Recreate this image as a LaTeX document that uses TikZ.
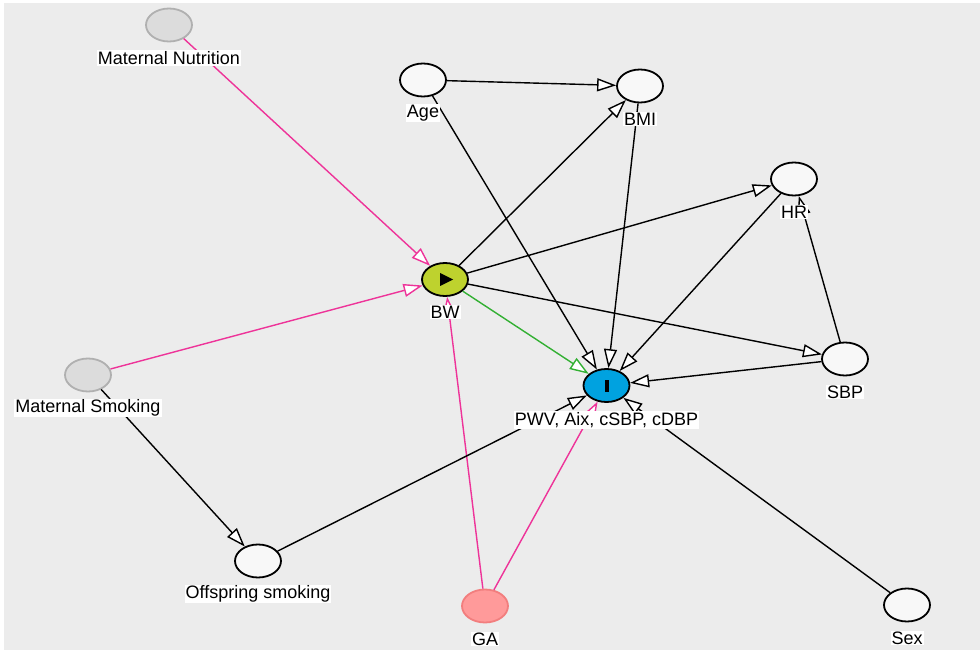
\documentclass[tikz,border=0pt]{standalone}
\usepackage{fontspec}
\setmainfont{Liberation Sans}
\usetikzlibrary{arrows.meta,shapes.geometric}
\definecolor{bg}{HTML}{ECECEC}
\definecolor{nodefill}{HTML}{F8F8F8}
\definecolor{latfill}{HTML}{DCDCDC}
\definecolor{latdraw}{HTML}{B0B0B0}
\definecolor{expfill}{HTML}{BED22E}
\definecolor{outfill}{HTML}{00A2E0}
\definecolor{gafill}{HTML}{FF9A9A}
\definecolor{gadraw}{HTML}{F27E7E}
\definecolor{pinkedge}{HTML}{EE3399}
\definecolor{greenedge}{HTML}{33B033}
\tikzset{
  var/.style={ellipse, draw=black, line width=1.8pt, fill=nodefill,
    minimum width=46pt, minimum height=33pt, inner sep=0pt},
  latent/.style={var, draw=latdraw, fill=latfill},
  lbl/.style={fill=white, inner sep=1pt, text=black,
    font=\fontsize{18}{20}\selectfont},
  edge/.style={line width=1.4pt, draw=black,
    -{Triangle[length=19pt,width=13pt,fill=white]}},
  pedge/.style={edge, draw=pinkedge},
  gedge/.style={edge, draw=greenedge},
}
\begin{document}
\begin{tikzpicture}[x=1pt,y=-1pt]
\useasboundingbox (0,0) rectangle (980,652);
\fill[white] (0,0) rectangle (980,652);
\fill[bg] (4,3) rectangle (980,650);

% nodes
\node[latent] (MN) at (169,25) {};
\node[var] (Age) at (423,80) {};
\node[var] (BMI) at (640,86) {};
\node[var] (HR) at (794,179) {};
\node[var, fill=expfill] (BW) at (445,279.5) {};
\node[var] (SBP) at (845,359) {};
\node[var, fill=outfill] (Y) at (606.5,385.5) {};
\node[latent] (MS) at (88,375) {};
\node[var] (OS) at (258,561) {};
\node[var, draw=gadraw, fill=gafill] (GA) at (485,606) {};
\node[var] (Sex) at (907,605) {};

% symbols
\fill[black] ([shift={(-5,-6.5)}]BW.center) -- ([shift={(-5,6.5)}]BW.center) -- ([shift={(8,0)}]BW.center) -- cycle;
\fill[black] ([shift={(-2,-6)}]Y.center) rectangle ([shift={(2,6)}]Y.center);

% edges
\draw[pedge] (MN) -- (BW);
\draw[pedge] (MS) -- (BW);
\draw[pedge] (GA) -- (BW);
\draw[pedge] (GA) -- (Y);
\draw[edge] (MS) -- (OS);
\draw[edge] (OS) -- (Y);
\draw[edge] (Age) -- (BMI);
\draw[edge] (Age) -- (Y);
\draw[edge] (BW) -- (BMI);
\draw[edge] (BW) -- (HR);
\draw[edge] (BW) -- (SBP);
\draw[edge] (BMI) -- (Y);
\draw[edge] (HR) -- (Y);
\draw[edge] (SBP) -- (HR);
\draw[edge] (SBP) -- (Y);
\draw[edge] (Sex) -- (Y);
\draw[gedge] (BW) -- (Y);

% labels
\node[lbl] (lMN) at (169,58) {Maternal Nutrition};
\node[lbl] (lAge) at (423,113) {Age};
\node[lbl] (lBMI) at (640,119) {BMI};
\node[lbl] (lHR) at (794,212) {HR};
\node[lbl] (lBW) at (445,312) {BW};
\node[lbl] (lSBP) at (845,392) {SBP};
\node[lbl] (lY) at (606.5,420) {PWV, Aix, cSBP, cDBP};
\node[lbl] (lMS) at (88,408) {Maternal Smoking};
\node[lbl] (lOS) at (258,594) {Offspring smoking};
\node[lbl] (lGA) at (485,639) {GA};
\node[lbl] (lSex) at (907,638) {Sex};
\end{tikzpicture}
\end{document}
